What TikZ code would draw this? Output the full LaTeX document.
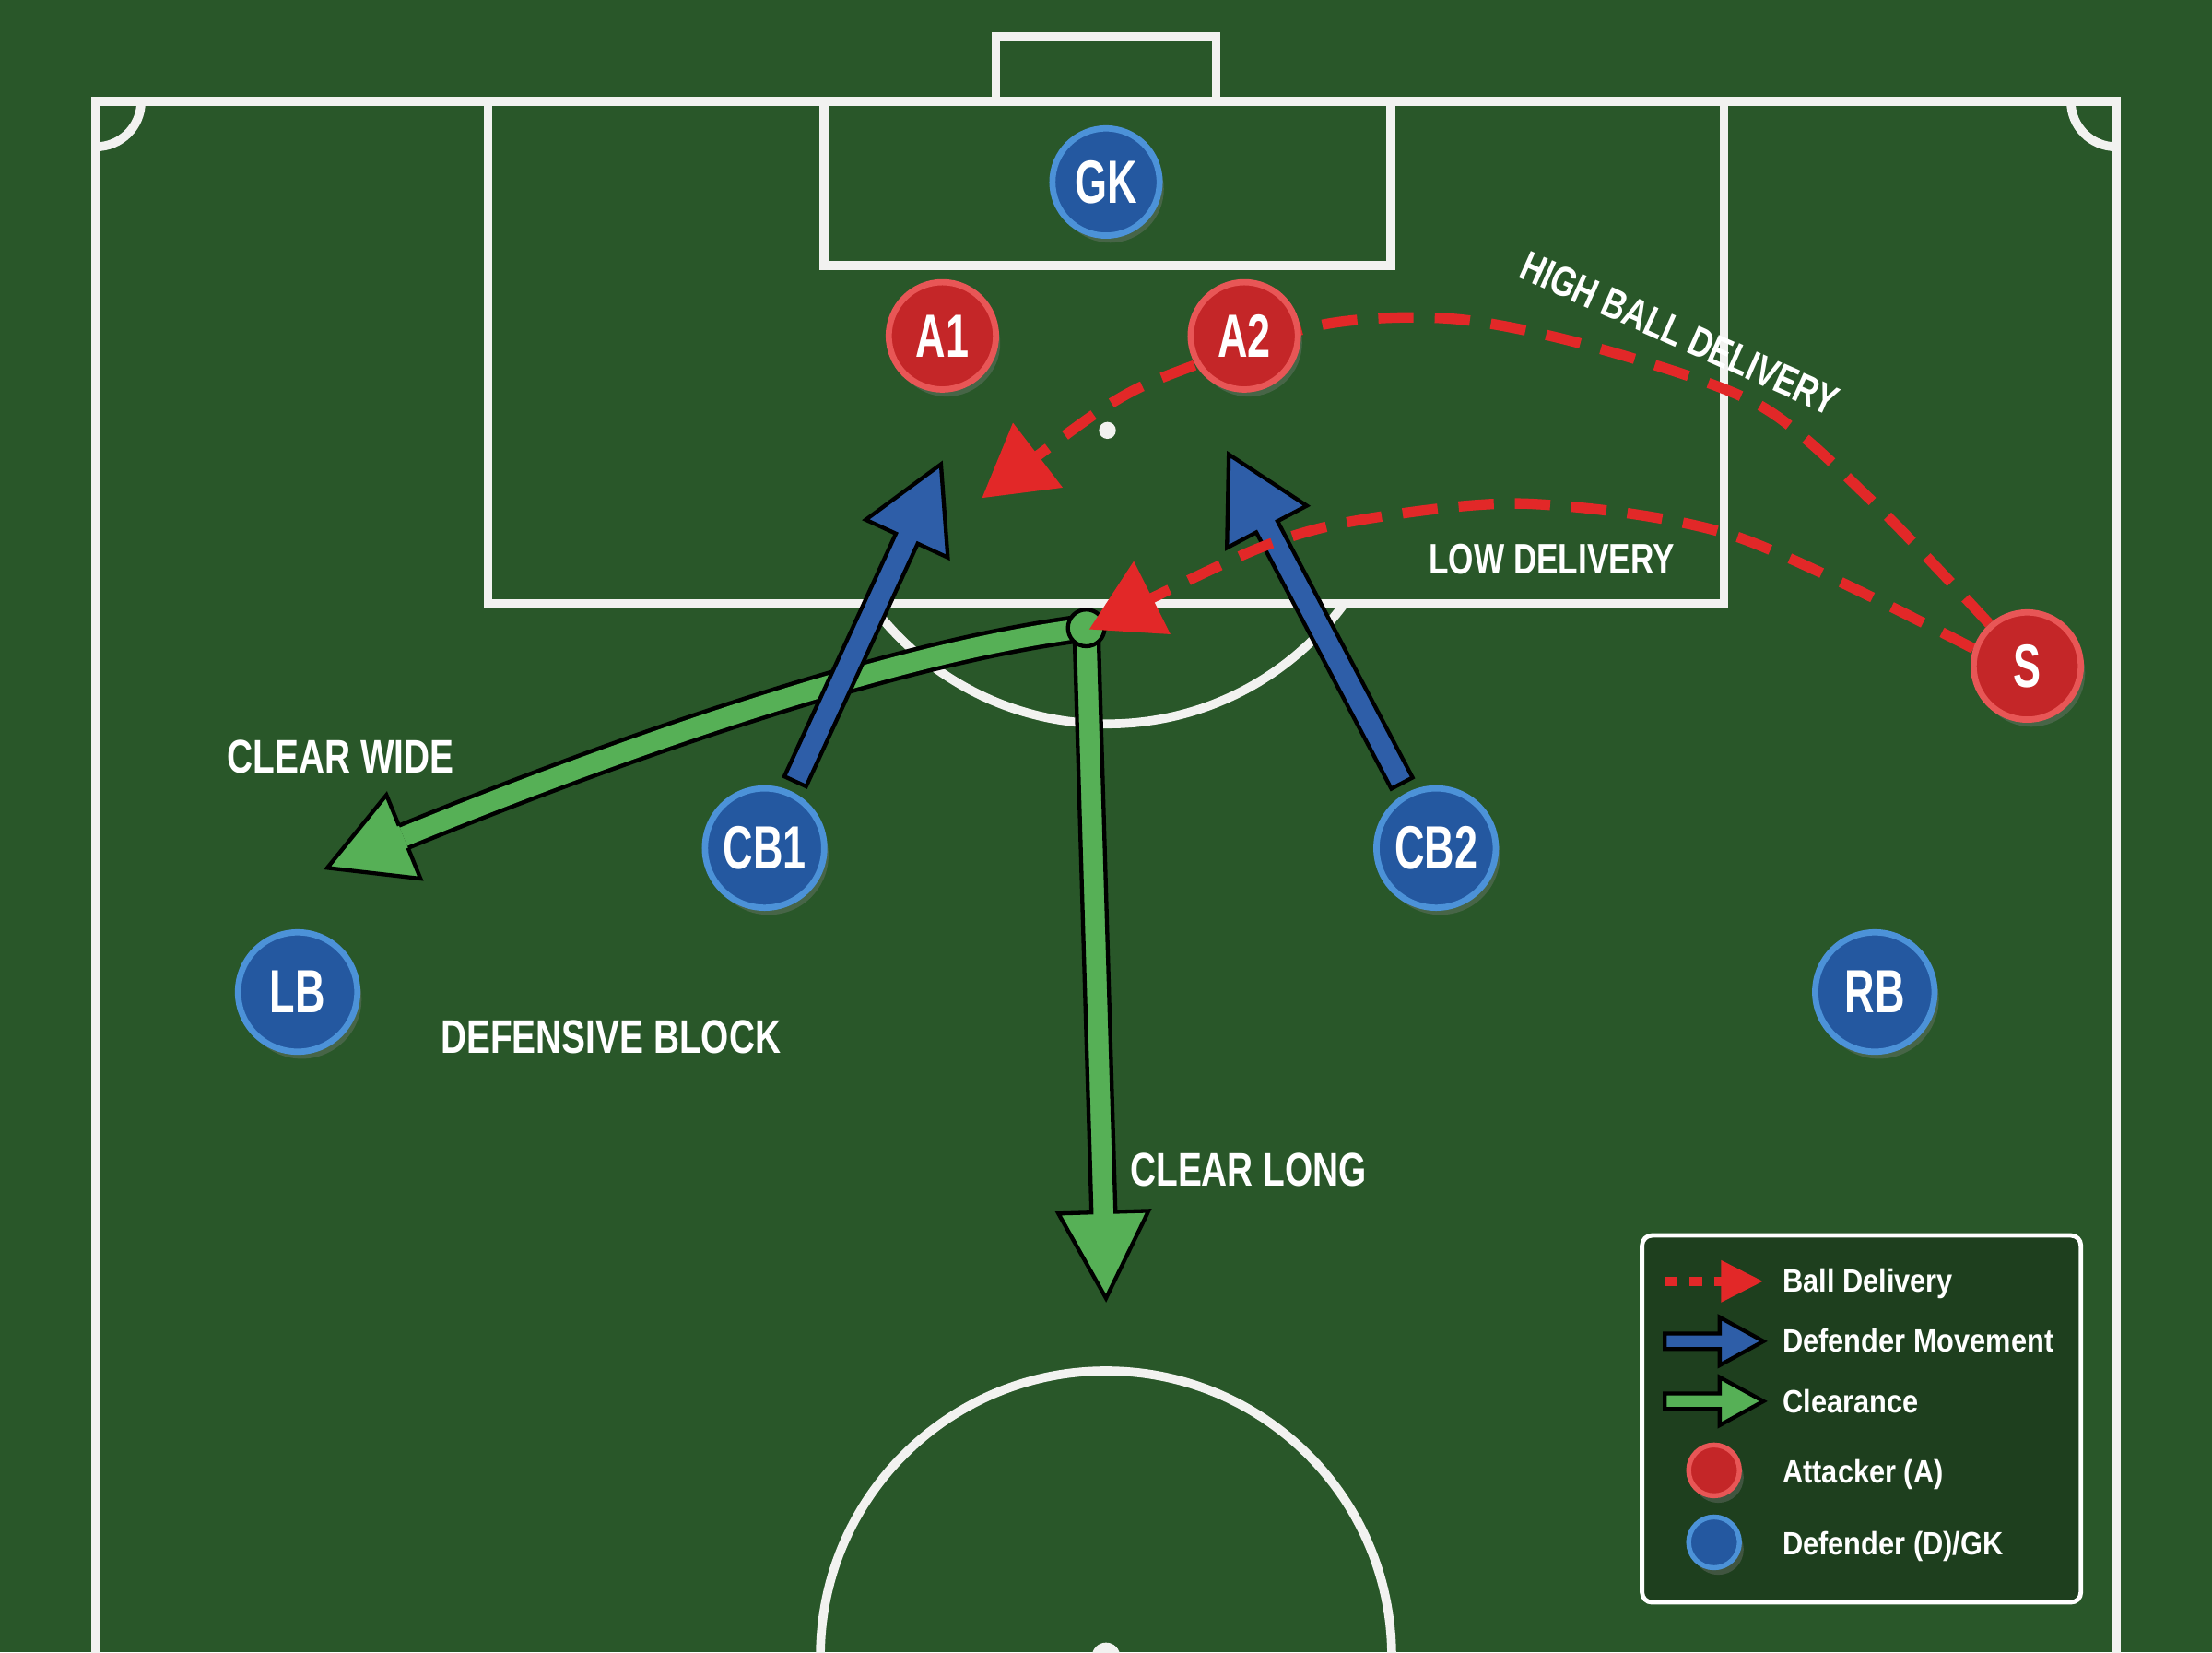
\documentclass[tikz,border=0pt]{standalone}
\usepackage{fontspec}
\newfontfamily\tokenfont{Liberation Sans}[FakeStretch=0.68]
\newfontfamily\labelfont{Liberation Sans}[FakeStretch=0.76]
\newfontfamily\keyfont{Liberation Sans}[FakeStretch=0.88]
\usetikzlibrary{arrows.meta,calc,shadows}

\definecolor{pitchgreen}{RGB}{41,87,41}
\definecolor{lineswhite}{RGB}{242,242,240}
\definecolor{attackred}{RGB}{196,38,40}
\definecolor{attackrim}{RGB}{232,86,86}
\definecolor{defblue}{RGB}{36,88,160}
\definecolor{defrim}{RGB}{76,146,216}
\definecolor{moveblue}{RGB}{46,94,168}
\definecolor{cleargreen}{RGB}{86,176,86}
\definecolor{deliveryred}{RGB}{226,40,40}
\definecolor{keyfill}{RGB}{28,58,28}

\pgfdeclarelayer{pitch}
\pgfdeclarelayer{moves}
\pgfsetlayers{pitch,moves,main}

\tikzset{
  pitchline/.style={draw=lineswhite, line width=1.8pt},
  token/.style={circle, minimum size=0.76cm, inner sep=0pt, line width=1.25pt, text=white,
    font=\tokenfont\bfseries\fontsize{12.3}{13}\selectfont,
    drop shadow={opacity=0.35, shadow xshift=0.03cm, shadow yshift=-0.05cm}},
  attacker/.style={token, fill=attackred, draw=attackrim},
  defender/.style={token, fill=defblue, draw=defrim},
  back/.style={minimum size=0.846cm},
  keydot/.style={minimum size=0.36cm, line width=1pt},
  ballmark/.style={circle, minimum size=0.26cm, inner sep=0pt, fill=cleargreen, draw=black, line width=0.8pt},
  boardlabel/.style={text=white, inner sep=0pt, font=\labelfont\bfseries\fontsize{9.5}{10}\selectfont},
  keytext/.style={text=white, anchor=base west, inner sep=0pt, font=\keyfont\bfseries\fontsize{6.5}{7}\selectfont},
  keybox/.style={rounded corners=0.07cm, draw=white, line width=0.9pt, fill=keyfill, fill opacity=0.8},
  delivery/.style={draw=deliveryred, line width=2.1pt, dash pattern=on 0.25cm off 0.15cm,
    -{Triangle[length=0.5cm, width=0.56cm]}},
  keydelivery/.style={draw=deliveryred, line width=0.065cm, dash pattern=on 0.09cm off 0.085cm,
    -{Triangle[length=0.3cm, width=0.28cm]}},
}

% fat outlined arrow: colour, from, to, shaft half-width, head half-width, head length
\newcommand{\fatarrow}[6]{%
  \coordinate (fab) at ($(#3)!#6!(#2)$);
  \filldraw[fill=#1, draw=black, line width=0.8pt]
    ($(#2)!#4!90:(#3)$) -- ($(fab)!#4!-90:(#2)$) -- ($(fab)!#5!-90:(#2)$) -- (#3)
    -- ($(fab)!#5!90:(#2)$) -- ($(fab)!#4!90:(#2)$) -- ($(#2)!#4!-90:(#3)$) -- cycle;}

% head only, for a curved shaft: colour, base, tip, shaft half-width, head half-width
\newcommand{\fathead}[5]{%
  \fill[#1] ($(#2)!#4!90:(#3)$) -- ($(#2)!#5!90:(#3)$) -- (#3)
    -- ($(#2)!#5!-90:(#3)$) -- ($(#2)!#4!-90:(#3)$) -- cycle;
  \draw[black, line width=0.8pt] ($(#2)!#4!90:(#3)$) -- ($(#2)!#5!90:(#3)$) -- (#3)
    -- ($(#2)!#5!-90:(#3)$) -- ($(#2)!#4!-90:(#3)$);}

\begin{document}
\begin{tikzpicture}
\useasboundingbox (0,0) rectangle (15.68,11.71);

% Pitch
\begin{pgfonlayer}{pitch}
\fill[pitchgreen] (0,0) rectangle (15.68,11.71);
\begin{scope}
  \clip (0,0) rectangle (15.68,11.71);
  \draw[pitchline] (0.68,-0.5) -- (0.68,10.99) -- (15.00,10.99) -- (15.00,-0.5);
  \draw[pitchline] (7.06,10.99) -- (7.06,11.45) -- (8.62,11.45) -- (8.62,10.99);
  \draw[pitchline] (3.46,10.99) -- (3.46,7.43) -- (12.22,7.43) -- (12.22,10.99);
  \draw[pitchline] (5.84,10.99) -- (5.84,9.83) -- (9.86,9.83) -- (9.86,10.99);
  \fill[lineswhite] (7.85,8.66) circle (0.06);
  \begin{scope}
    \clip (0,0) rectangle (15.68,7.43);
    \draw[pitchline] (7.85,8.66) circle (2.08);
  \end{scope}
  \draw[pitchline] (7.84,-0.03) circle (2.025);
  \fill[lineswhite] (7.84,-0.03) circle (0.1);
  \begin{scope}
    \clip (0.68,0) rectangle (15.00,10.99);
    \draw[pitchline] (0.68,10.99) circle (0.32);
    \draw[pitchline] (15.00,10.99) circle (0.32);
  \end{scope}
\end{scope}
\end{pgfonlayer}

% Players
\node[defender] (GK) at (7.84,10.42) {GK};
\node[attacker] (A1) at (6.68,9.33) {A1};
\node[attacker] (A2) at (8.82,9.33) {A2};
\node[attacker] (S) at (14.37,6.99) {S};
\node[defender, back] (CB1) at (5.42,5.70) {CB1};
\node[defender, back] (CB2) at (10.18,5.70) {CB2};
\node[defender, back] (LB) at (2.11,4.68) {LB};
\node[defender, back] (RB) at (13.29,4.68) {RB};

% Free ends
\coordinate (kick) at (7.70,7.26);
\coordinate (longtip) at (7.84,2.51);
\coordinate (widebase) at (2.86,5.78);
\coordinate (widetip) at (2.32,5.56);
\coordinate (cb1to) at (6.67,8.42);
\coordinate (cb2to) at (8.71,8.49);
\coordinate (cb1from) at ($(CB1)!0.52cm!(cb1to)$);
\coordinate (cb2from) at ($(CB2)!0.52cm!(cb2to)$);
\coordinate (hightip) at (6.96,8.18);
\coordinate (lowtip) at (7.72,7.25);

% Movements
\begin{pgfonlayer}{moves}
\draw[line width=0.2cm, black] (kick) .. controls (6.4,7.1) and (4.5,6.45) .. (widebase);
\draw[line width=0.14cm, cleargreen] (kick) .. controls (6.4,7.1) and (4.5,6.45) .. (widebase);
\fathead{cleargreen}{widebase}{widetip}{0.085cm}{0.32cm}
\fatarrow{cleargreen}{kick}{longtip}{0.085cm}{0.32cm}{0.61cm}
\node[ballmark] (ball) at (kick) {};

\fatarrow{moveblue}{cb1from}{cb1to}{0.085cm}{0.32cm}{0.58cm}
\fatarrow{moveblue}{cb2from}{cb2to}{0.085cm}{0.32cm}{0.58cm}

\draw[delivery] plot[smooth] coordinates {(S.132) (13.29,8.14) (12.47,8.84) (11.30,9.25)
  (10.31,9.45) (9.38,9.41) (8.33,9.07) (7.81,8.81) (hightip)};
\draw[delivery] plot[smooth] coordinates {(S.162) (12.30,7.91) (10.84,8.14) (9.67,8.03)
  (8.91,7.82) (lowtip)};
\end{pgfonlayer}

% Labels
\node[boardlabel] (wide) at (2.414,6.344) {CLEAR WIDE};
\node[boardlabel] (block) at (4.33,4.36) {DEFENSIVE BLOCK};
\node[boardlabel] (long) at (8.85,3.42) {CLEAR LONG};
\node[boardlabel, font=\labelfont\bfseries\fontsize{8.6}{9}\selectfont] (low) at (10.998,7.746) {LOW DELIVERY};
\node[boardlabel, font=\labelfont\bfseries\fontsize{8.5}{9}\selectfont, anchor=base west, rotate=-24]
  (high) at (10.75,9.75) {HIGH BALL DELIVERY};

% Key
\draw[keybox] (11.64,0.355) rectangle (14.75,2.955);
\coordinate (k1a) at (11.80,2.63);
\coordinate (k1b) at (12.50,2.63);
\draw[keydelivery] (k1a) -- (k1b);
\coordinate (k2a) at (11.80,2.205);
\coordinate (k2b) at (12.50,2.205);
\fatarrow{moveblue}{k2a}{k2b}{0.055cm}{0.17cm}{0.31cm}
\coordinate (k3a) at (11.80,1.78);
\coordinate (k3b) at (12.50,1.78);
\fatarrow{cleargreen}{k3a}{k3b}{0.055cm}{0.17cm}{0.31cm}
\node[attacker, keydot] (k4) at (12.15,1.29) {};
\node[defender, keydot] (k5) at (12.15,0.78) {};
\node[keytext] (t1) at (12.63,2.552) {Ball Delivery};
\node[keytext] (t2) at (12.63,2.128) {Defender Movement};
\node[keytext] (t3) at (12.63,1.70) {Clearance};
\node[keytext] (t4) at (12.63,1.204) {Attacker (A)};
\node[keytext] (t5) at (12.63,0.69) {Defender (D)/GK};
\end{tikzpicture}
\end{document}
